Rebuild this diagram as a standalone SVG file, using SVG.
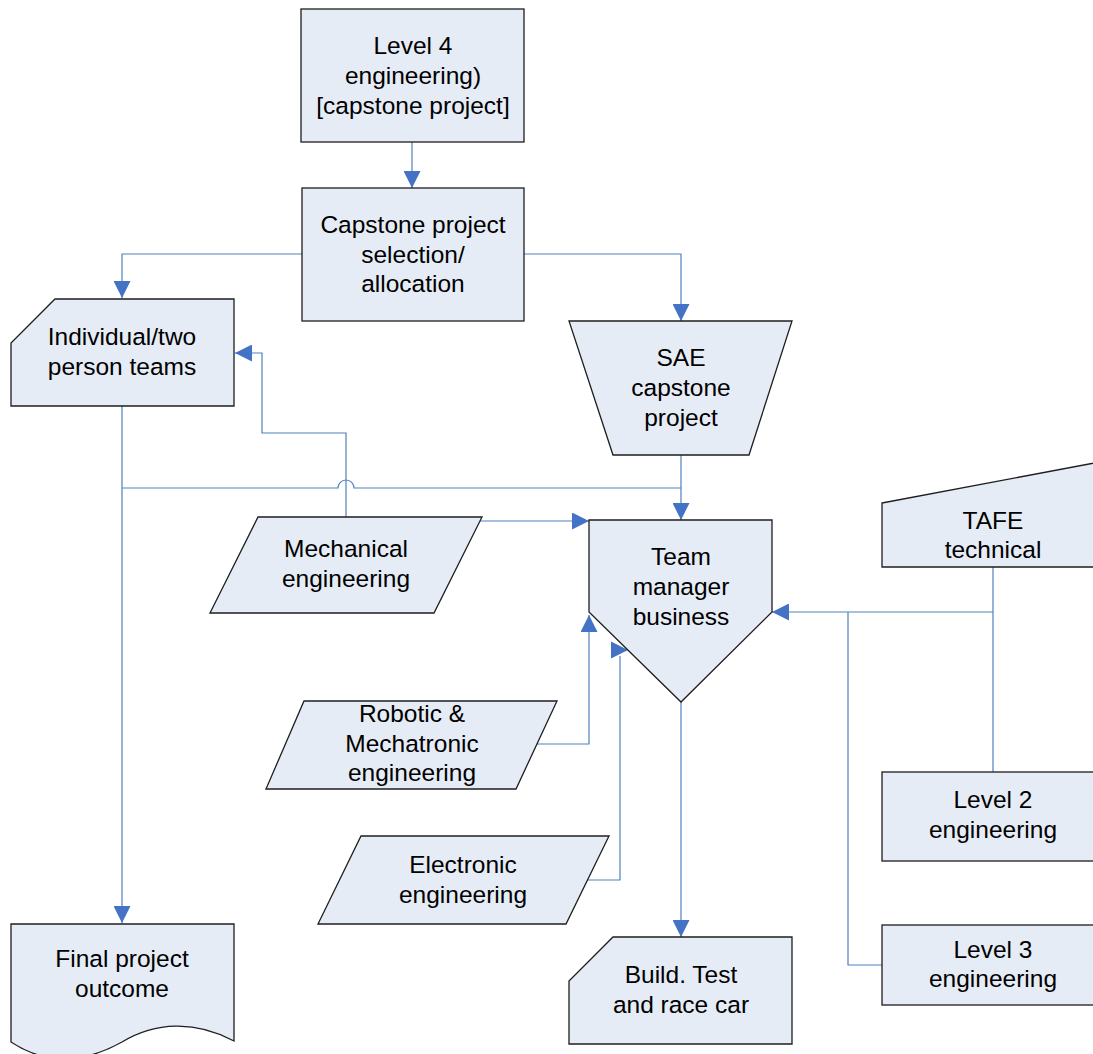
<svg xmlns="http://www.w3.org/2000/svg" width="1093" height="1054" viewBox="0 0 1093 1054">
<style>
.n{fill:#E6ECF6;stroke:#1E1E1E;stroke-width:1.3;stroke-linejoin:miter}
.t{font-family:"Liberation Sans",Arial,sans-serif;font-size:24.5px;fill:#000;text-anchor:middle}
.c{fill:none;stroke:#4F81BD;stroke-width:1.2}
.ah{fill:#4472C4}
</style>
<defs>
<marker id="arr" markerUnits="userSpaceOnUse" markerWidth="17" markerHeight="17" refX="17" refY="8.5" orient="auto" viewBox="0 0 17 17">
<path d="M0,0 L17,8.5 L0,17 z" fill="#4472C4"/>
</marker>
</defs>
<rect width="1093" height="1054" fill="#fff"/>

<g id="connectors">
<path class="c" d="M412,142 V188" marker-end="url(#arr)"/>
<path class="c" d="M302,254 H122 V298" marker-end="url(#arr)"/>
<path class="c" d="M524,254 H681 V321" marker-end="url(#arr)"/>
<path class="c" d="M681,455 V520" marker-end="url(#arr)"/>
<path class="c" d="M122,406 V923" marker-end="url(#arr)"/>
<path class="c" d="M122,488 H338 A8,8 0 0 1 354,488 H681"/>
<path class="c" d="M346,517 V433 H262 V353 H235" marker-end="url(#arr)"/>
<path class="c" d="M457,521 H589" marker-end="url(#arr)"/>
<path class="c" d="M537,744 H589 V615" marker-end="url(#arr)"/>
<path class="c" d="M588,880 H620 V656"/>
<polygon class="ah" points="611,641.5 628,650 611,658.5"/>
<path class="c" d="M681,702 V937" marker-end="url(#arr)"/>
<path class="c" d="M993,567 V772"/>
<path class="c" d="M993,612 H772" marker-end="url(#arr)"/>
<path class="c" d="M882,965 H848 V612"/>
</g>

<g id="level4">
<rect class="n" x="301" y="9" width="223" height="133"/>
<text class="t" x="413" y="54">Level 4</text>
<text class="t" x="413" y="84">engineering)</text>
<text class="t" x="413" y="114">[capstone project]</text>
</g>

<g id="capstone-selection">
<rect class="n" x="302" y="188" width="222" height="133"/>
<text class="t" x="413" y="233">Capstone project</text>
<text class="t" x="413" y="262.5">selection/</text>
<text class="t" x="413" y="292">allocation</text>
</g>

<g id="individual-teams">
<path class="n" d="M55,299 H234 V406 H11 V343 Z"/>
<text class="t" x="122" y="345">Individual/two</text>
<text class="t" x="122" y="375">person teams</text>
</g>

<g id="sae-capstone">
<path class="n" d="M569,321 H792 L749,455 H613 Z"/>
<text class="t" x="681" y="366">SAE</text>
<text class="t" x="681" y="396">capstone</text>
<text class="t" x="681" y="426">project</text>
</g>

<g id="team-manager">
<path class="n" d="M589,520 H772 V612 L681,702 L589,612 Z"/>
<text class="t" x="681" y="565">Team</text>
<text class="t" x="681" y="595">manager</text>
<text class="t" x="681" y="625">business</text>
</g>

<g id="mechanical">
<path class="n" d="M258,517 H482 L434,613 H210 Z"/>
<text class="t" x="346" y="557">Mechanical</text>
<text class="t" x="346" y="587">engineering</text>
</g>

<g id="robotic">
<path class="n" d="M304,701 H557 L516,789 H266 Z"/>
<text class="t" x="412" y="722">Robotic &amp;</text>
<text class="t" x="412" y="752">Mechatronic</text>
<text class="t" x="412" y="781">engineering</text>
</g>

<g id="electronic">
<path class="n" d="M361,836 H609 L566,924 H318 Z"/>
<text class="t" x="463" y="873">Electronic</text>
<text class="t" x="463" y="903">engineering</text>
</g>

<g id="final-outcome">
<path class="n" d="M11,924 H234 V1041 C195,1020 155,1022 122,1042 C90,1060 50,1068 11,1042 Z"/>
<text class="t" x="122" y="967">Final project</text>
<text class="t" x="122" y="997">outcome</text>
</g>

<g id="build-test">
<path class="n" d="M613,937 H792 V1044 H569 V981 Z"/>
<text class="t" x="681" y="983">Build. Test</text>
<text class="t" x="681" y="1013">and race car</text>
</g>

<g id="tafe">
<path class="n" d="M882,503 L1105,461 V567 H882 Z"/>
<text class="t" x="993" y="529">TAFE</text>
<text class="t" x="993" y="558">technical</text>
</g>

<g id="level2">
<rect class="n" x="882" y="772" width="223" height="89"/>
<text class="t" x="993" y="808">Level 2</text>
<text class="t" x="993" y="838">engineering</text>
</g>

<g id="level3">
<rect class="n" x="882" y="925" width="223" height="80"/>
<text class="t" x="993" y="958">Level 3</text>
<text class="t" x="993" y="987">engineering</text>
</g>
</svg>
